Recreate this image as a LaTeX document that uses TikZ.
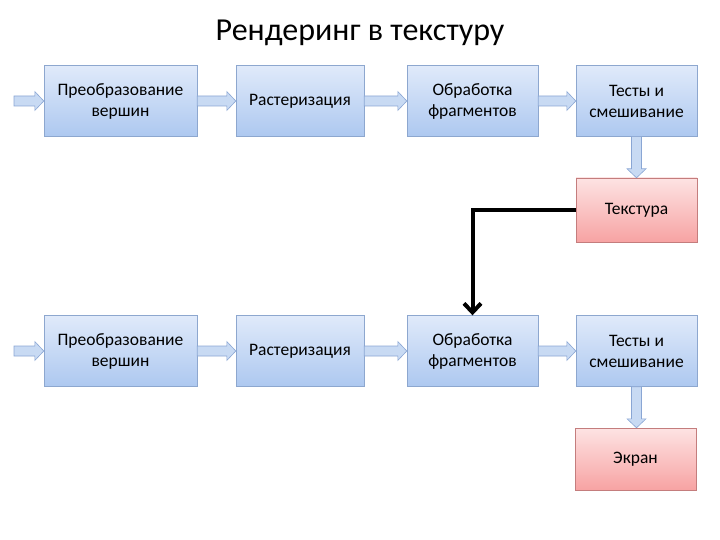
\documentclass[tikz,border=0pt]{standalone}
\usepackage{fontspec}
\setmainfont{Carlito}
\usetikzlibrary{arrows.meta,calc}
\definecolor{boxtop}{HTML}{E0EAFA}
\definecolor{boxbot}{HTML}{ADC8F0}
\definecolor{boxline}{HTML}{8DA7CF}
\definecolor{redtop}{HTML}{FDE3E3}
\definecolor{redbot}{HTML}{F7A3A3}
\definecolor{redline}{HTML}{C47D7D}
\definecolor{arrfill}{HTML}{C8DAF3}
\definecolor{arrline}{HTML}{8AA6D4}
\tikzset{
  bluebox/.style={draw=boxline, top color=boxtop, bottom color=boxbot, align=center,
    inner sep=0pt, minimum height=71pt, font=\fontsize{17.5}{21}\selectfont},
  redbox/.style={draw=redline, top color=redtop, bottom color=redbot, align=center,
    inner sep=0pt, minimum width=121pt, font=\fontsize{17.5}{21}\selectfont},
  blockarrow/.style={draw=arrline, fill=arrfill, line width=0.6pt},
  feedback/.style={line width=4pt, -{Straight Barb[length=9pt,width=17pt]}}
}
\newcommand{\harr}[2]{\path[blockarrow] let \p1=(#1), \p2=(#2) in
  (\x1,\y1+5pt) -- (\x2-9pt,\y1+5pt) -- (\x2-9pt,\y1+9.5pt) -- (\x2,\y1) --
  (\x2-9pt,\y1-9.5pt) -- (\x2-9pt,\y1-5pt) -- (\x1,\y1-5pt) -- cycle;}
\newcommand{\varr}[2]{\path[blockarrow] let \p1=(#1), \p2=(#2) in
  (\x1-5pt,\y1) -- (\x1-5pt,\y2+9pt) -- (\x1-9.5pt,\y2+9pt) -- (\x1,\y2) --
  (\x1+9.5pt,\y2+9pt) -- (\x1+5pt,\y2+9pt) -- (\x1+5pt,\y1) -- cycle;}
\begin{document}
\begin{tikzpicture}[x=1pt,y=-1pt]
\useasboundingbox (0,0) rectangle (720,540);
\node[font=\fontsize{32}{38}\selectfont] (title) at (360,33) {Рендеринг в текстуру};
% row 1
\node[bluebox, minimum width=153pt] (a1) at (120.5,101) {Преобразование\\вершин};
\node[bluebox, minimum width=128pt] (b1) at (300,101) {Растеризация};
\node[bluebox, minimum width=131pt] (c1) at (472.5,101) {Обработка\\фрагментов};
\node[bluebox, minimum width=121pt] (d1) at (636.5,101) {Тесты и\\смешивание};
\node[redbox, minimum height=64pt] (tex) at (636.5,210) {Текстура};
% row 2
\node[bluebox, minimum width=153pt] (a2) at (120.5,351) {Преобразование\\вершин};
\node[bluebox, minimum width=128pt] (b2) at (300,351) {Растеризация};
\node[bluebox, minimum width=131pt] (c2) at (472.5,351) {Обработка\\фрагментов};
\node[bluebox, minimum width=121pt] (d2) at (636.5,351) {Тесты и\\смешивание};
\node[redbox, minimum height=62pt] (scr) at (635.5,459) {Экран};
\coordinate (in1) at (14,101);
\coordinate (in2) at (14,351);
% block arrows
\harr{in1}{a1.west}
\harr{a1.east}{b1.west}
\harr{b1.east}{c1.west}
\harr{c1.east}{d1.west}
\varr{d1.south}{tex.north}
\harr{in2}{a2.west}
\harr{a2.east}{b2.west}
\harr{b2.east}{c2.west}
\harr{c2.east}{d2.west}
\varr{d2.south}{scr.north}
% feedback connector
\draw[feedback] (tex.west) -| (c2.north);
\end{tikzpicture}
\end{document}
